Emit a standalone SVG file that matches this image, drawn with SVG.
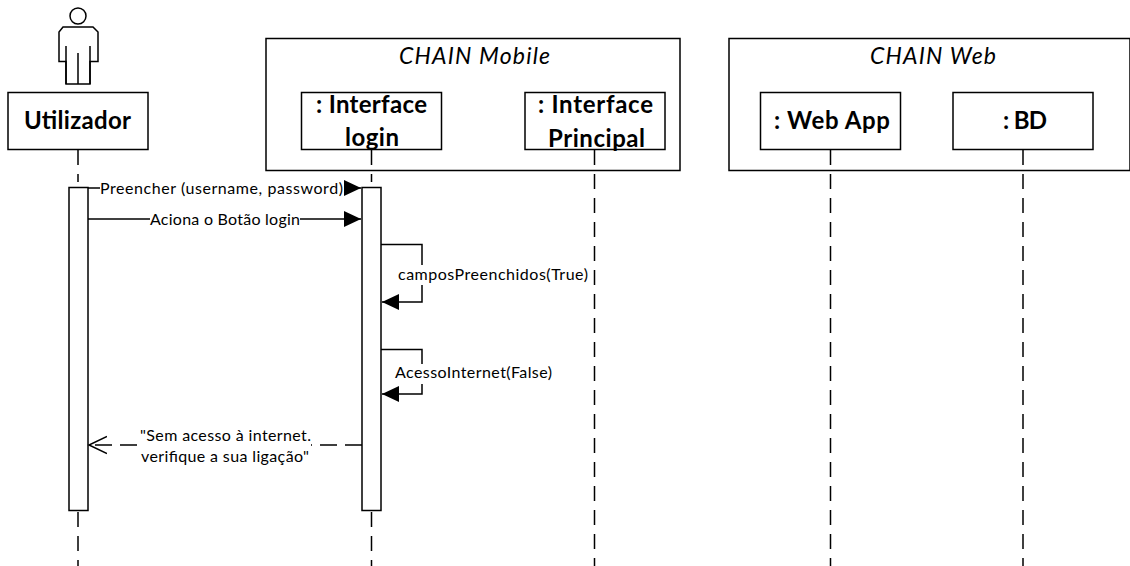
<svg xmlns="http://www.w3.org/2000/svg" width="1130" height="566" viewBox="0 0 1130 566">
<style>
text{font-family:Lato,"Liberation Sans",sans-serif;fill:#000}
.b{fill:#fff;stroke:#000;stroke-width:1.5}
.l{fill:none;stroke:#000;stroke-width:1.5}
.d{fill:none;stroke:#000;stroke-width:1.5;stroke-dasharray:15 9}
.t{font-size:24px;font-weight:700}
.g{font-size:23px;font-style:italic}
.m{font-size:16px}
.w{fill:#fff}
</style>
<defs>
<marker id="fill" markerUnits="userSpaceOnUse" markerWidth="18" markerHeight="18" refX="17" refY="9" orient="auto"><path d="M0,1 L17,9 L0,17 Z" fill="#000"/></marker>
<marker id="open" markerUnits="userSpaceOnUse" markerWidth="20" markerHeight="20" refX="18" refY="10" orient="auto"><path d="M0,1.500 L18,10 L0,18.500" fill="none" stroke="#000" stroke-width="1.500"/></marker>
</defs>
<g id="group-mobile"><rect class="b" x="266" y="38.500" width="414" height="132"/><text class="g" x="399" y="64" textLength="151">CHAIN Mobile</text></g>
<g id="group-web"><rect class="b" x="729" y="38.500" width="401" height="132"/><text class="g" x="870" y="64" textLength="126">CHAIN Web</text></g>
<g id="connectors">
<path class="d" d="M78 150V182"/><path class="d" d="M78 512V566"/>
<path class="d" d="M371.500 150V182"/><path class="d" d="M371.500 512V566"/>
<path class="d" d="M594.500 150V566"/><path class="d" d="M830.500 150V566"/><path class="d" d="M1023 150V566"/>
</g>
<g id="actor-utilizador">
<circle class="b" cx="78" cy="16" r="8"/>
<path class="l" d="M63 27H93L98 32V61.500H90V84H66V61.500H59V32Z"/>
<path class="l" d="M66 46V84M90 46V84M78 53V84"/>
<rect class="b" x="8" y="92.500" width="140" height="57"/><text class="t" x="24" y="129" textLength="107">Utilizador</text>
</g>
<g id="node-login"><rect class="b" x="301.500" y="92.500" width="140" height="57"/><text class="t" x="316" y="113" textLength="111">: Interface</text><text class="t" x="345" y="146" textLength="54">login</text></g>
<g id="node-principal"><rect class="b" x="525" y="92.500" width="140" height="57"/><text class="t" x="538" y="113" textLength="115">: Interface</text><text class="t" x="548" y="147" textLength="97">Principal</text></g>
<g id="node-webapp"><rect class="b" x="760.500" y="92.500" width="140" height="57"/><text class="t" x="774" y="129" textLength="116">: Web App</text></g>
<g id="node-bd"><rect class="b" x="953" y="92.500" width="140" height="57"/><text class="t" x="1003" y="129" textLength="44">: BD</text></g>
<g id="activation-utilizador"><rect class="b" x="69" y="187.500" width="19" height="323"/></g>
<g id="activation-login"><rect class="b" x="362" y="187.500" width="19" height="323"/></g>
<g id="messages">
<path class="l" marker-end="url(#fill)" d="M88 188H361"/>
<rect class="w" x="100" y="180" width="244" height="16"/>
<text class="m" x="100" y="194" textLength="243">Preencher (username, password)</text>
<path class="l" marker-end="url(#fill)" d="M88 219H361"/>
<rect class="w" x="150" y="211" width="150" height="16"/>
<text class="m" x="150" y="225" textLength="150">Aciona o Botão login</text>
<path class="l" marker-end="url(#fill)" d="M381 244.500H422V302H382"/>
<rect class="w" x="398" y="265" width="191" height="20"/>
<text class="m" x="398" y="280" textLength="190">camposPreenchidos(True)</text>
<path class="l" marker-end="url(#fill)" d="M381 349.500H422V394H382"/>
<rect class="w" x="395" y="364" width="158" height="20"/>
<text class="m" x="395" y="378" textLength="157">AcessoInternet(False)</text>
<path class="d" marker-end="url(#open)" d="M362 445H89" style="stroke-dasharray:17 8"/>
<rect class="w" x="140" y="427" width="171" height="40"/>
<text class="m" x="140" y="441" textLength="171">"Sem acesso à internet.</text>
<text class="m" x="141" y="462" textLength="168">verifique a sua ligação"</text>
</g>
</svg>
